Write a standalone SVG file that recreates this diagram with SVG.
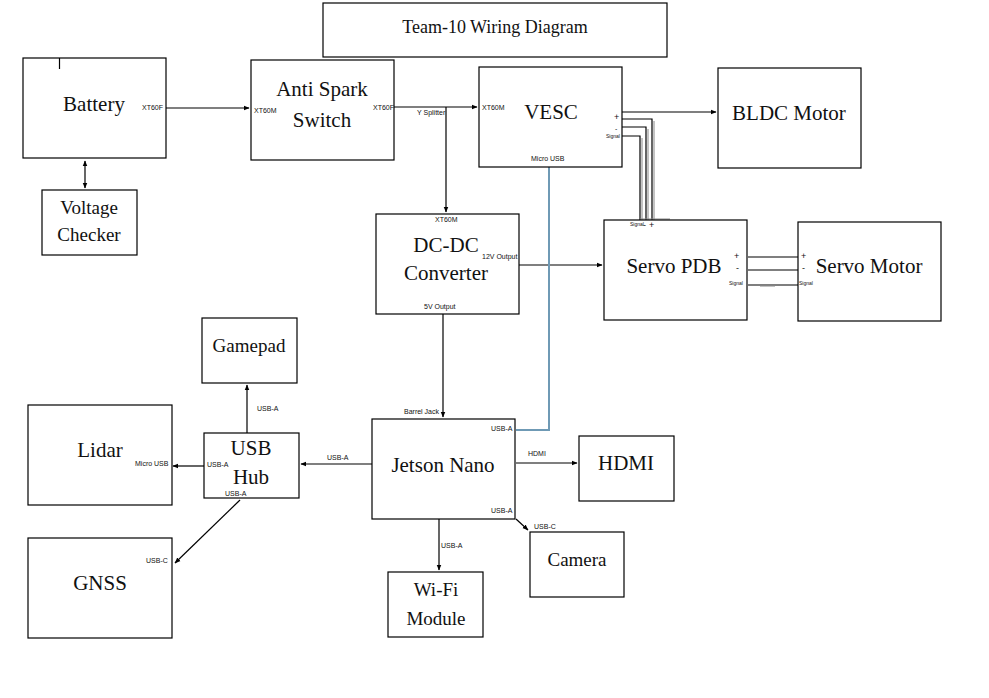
<svg xmlns="http://www.w3.org/2000/svg" width="989" height="698" viewBox="0 0 989 698">
<style>
.box{fill:#fff;stroke:#000;stroke-width:1.2}
.t{font-family:"Liberation Serif","Times New Roman",serif;font-size:21px;fill:#111;text-anchor:middle}
.s{font-family:"Liberation Sans",Arial,sans-serif;font-size:7px;fill:#111}
.p{font-family:"Liberation Sans",Arial,sans-serif;font-size:9px;fill:#111}
.w{fill:none;stroke:#000;stroke-width:1.2}
.g{fill:none;stroke:#888;stroke-width:1}
.b{fill:none;stroke:#6f9ab5;stroke-width:2}
</style>
<defs>
<marker id="a" viewBox="0 0 10 10" refX="9" refY="5" markerWidth="5" markerHeight="5" orient="auto-start-reverse"><path d="M0,1 L10,5 L0,9 z" fill="#000"/></marker>
</defs>
<rect width="989" height="698" fill="#fff"/>
<g id="connectors">
<line class="w" x1="166" y1="108" x2="249" y2="108" marker-end="url(#a)"/>
<line class="w" x1="85" y1="161" x2="85" y2="188" marker-start="url(#a)" marker-end="url(#a)"/>
<line class="w" x1="394" y1="107" x2="477" y2="107" marker-end="url(#a)"/>
<line class="w" x1="446" y1="107" x2="446" y2="212" marker-end="url(#a)"/>
<line class="w" x1="622" y1="112" x2="716" y2="112" marker-end="url(#a)"/>
<polyline class="w" points="622,119 652,119 652,220"/>
<polyline class="w" points="622,127 646,127 646,220"/>
<polyline class="w" points="622,136 640,136 640,220"/>
<line class="g" x1="654" y1="121" x2="654" y2="220"/>
<line class="g" x1="648" y1="129" x2="648" y2="220"/>
<line class="g" x1="642" y1="138" x2="642" y2="220"/>
<line class="g" x1="640" y1="219" x2="670" y2="219"/>
<line class="w" x1="519" y1="265" x2="602" y2="265" marker-end="url(#a)"/>
<line class="w" x1="748" y1="257" x2="798" y2="257"/>
<line class="w" x1="748" y1="270" x2="798" y2="270"/>
<line class="w" x1="748" y1="285" x2="798" y2="285"/>
<line class="g" x1="760" y1="286" x2="775" y2="286"/>
<polyline class="b" points="549,167 549,430 516,430"/>
<line class="w" x1="443" y1="314" x2="443" y2="417" marker-end="url(#a)"/>
<line class="w" x1="516" y1="463" x2="577" y2="463" marker-end="url(#a)"/>
<line class="w" x1="516" y1="519" x2="528" y2="530" marker-end="url(#a)"/>
<line class="w" x1="439" y1="519" x2="439" y2="570" marker-end="url(#a)"/>
<line class="w" x1="372" y1="464" x2="301" y2="464" marker-end="url(#a)"/>
<line class="w" x1="204" y1="466" x2="173" y2="466" marker-end="url(#a)"/>
<line class="w" x1="247" y1="433" x2="247" y2="385" marker-end="url(#a)"/>
<line class="w" x1="240" y1="500" x2="175" y2="563" marker-end="url(#a)"/>
</g>
<g id="title"><rect class="box" x="323" y="3" width="344" height="54"/><text class="t" x="495" y="33" style="font-size:18px">Team-10 Wiring Diagram</text></g>
<g id="battery"><rect class="box" x="23" y="58" width="143" height="100"/><line class="w" x1="59.5" y1="58" x2="59.5" y2="69"/><text class="t" x="94" y="111">Battery</text><text class="s" x="142" y="110">XT60F</text></g>
<g id="voltage-checker"><rect class="box" x="42" y="190" width="95" height="65"/><text class="t" x="89" y="214" style="font-size:19px">Voltage</text><text class="t" x="89" y="241" style="font-size:19px">Checker</text></g>
<g id="anti-spark"><rect class="box" x="251" y="60" width="143" height="100"/><text class="t" x="322" y="96">Anti Spark</text><text class="t" x="322" y="127">Switch</text><text class="s" x="254" y="113">XT60M</text><text class="s" x="373" y="110">XT60F</text><text class="s" x="417" y="115">Y Splitter</text></g>
<g id="vesc"><rect class="box" x="479" y="67" width="143" height="100"/><text class="t" x="551" y="119">VESC</text><text class="s" x="482" y="110">XT60M</text><text class="s" x="531" y="161">Micro USB</text><text class="p" x="614" y="120">+</text><text class="s" x="615" y="130.5">-</text><text class="s" x="606" y="138" style="font-size:5px">Signal</text></g>
<g id="bldc"><rect class="box" x="718" y="68" width="143" height="100"/><text class="t" x="789" y="120">BLDC Motor</text></g>
<g id="dcdc"><rect class="box" x="376" y="214" width="143" height="100"/><text class="t" x="446" y="252">DC-DC</text><text class="t" x="446" y="280">Converter</text><text class="s" x="435" y="222">XT60M</text><text class="s" x="482" y="259">12V Output</text><text class="s" x="424" y="309">5V Output</text></g>
<g id="servo-pdb"><rect class="box" x="604" y="220" width="143" height="100"/><text class="t" x="674" y="273">Servo PDB</text><text class="p" x="734" y="259">+</text><text class="p" x="736" y="271">-</text><text class="s" x="729" y="285" style="font-size:5px">Signal</text><text class="s" x="630" y="226" style="font-size:5px">Signal</text><text class="p" x="643" y="228">-</text><text class="p" x="649" y="228">+</text></g>
<g id="servo-motor"><rect class="box" x="798" y="222" width="143" height="99"/><text class="t" x="869" y="273">Servo Motor</text><text class="p" x="801" y="259">+</text><text class="p" x="802" y="271">-</text><text class="s" x="799" y="285" style="font-size:5px">Signal</text></g>
<g id="gamepad"><rect class="box" x="202" y="318" width="95" height="65"/><text class="t" x="249" y="352" style="font-size:19px">Gamepad</text></g>
<g id="lidar"><rect class="box" x="28" y="405" width="144" height="100"/><text class="t" x="100" y="457">Lidar</text><text class="s" x="135" y="466">Micro USB</text></g>
<g id="usb-hub"><rect class="box" x="204" y="433" width="95" height="65"/><text class="t" x="251" y="455">USB</text><text class="t" x="251" y="484">Hub</text><text class="s" x="207" y="467">USB-A</text><text class="s" x="225" y="496">USB-A</text><text class="s" x="257" y="411">USB-A</text><text class="s" x="327" y="460">USB-A</text></g>
<g id="gnss"><rect class="box" x="28" y="538" width="144" height="100"/><text class="t" x="100" y="590">GNSS</text><text class="s" x="146" y="563">USB-C</text></g>
<g id="jetson"><rect class="box" x="372" y="419" width="143" height="100"/><text class="t" x="443" y="472">Jetson Nano</text><text class="s" x="404" y="414">Barrel Jack</text><text class="s" x="491" y="431">USB-A</text><text class="s" x="491" y="513">USB-A</text><text class="s" x="528" y="456">HDMI</text><text class="s" x="534" y="529">USB-C</text><text class="s" x="441" y="548">USB-A</text></g>
<g id="hdmi"><rect class="box" x="579" y="436" width="95" height="65"/><text class="t" x="626" y="470">HDMI</text></g>
<g id="camera"><rect class="box" x="530" y="532" width="94" height="65"/><text class="t" x="577" y="566" style="font-size:19px">Camera</text></g>
<g id="wifi"><rect class="box" x="388" y="572" width="95" height="65"/><text class="t" x="436" y="596" style="font-size:19px">Wi-Fi</text><text class="t" x="436" y="625" style="font-size:19px">Module</text></g>
</svg>
